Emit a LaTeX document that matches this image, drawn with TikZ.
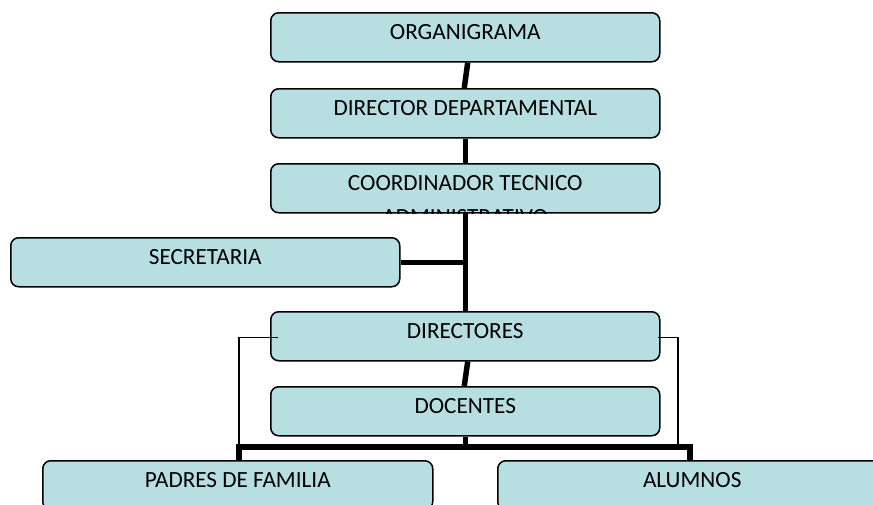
\documentclass[tikz,border=0pt]{standalone}
\usepackage{fontspec}
\setmainfont{Carlito}
\usetikzlibrary{calc}
\pgfdeclarelayer{bg}
\pgfsetlayers{bg,main}
\definecolor{boxfill}{RGB}{183,222,225}
\begin{document}
\begin{tikzpicture}[x=1pt,y=-1pt,
  box/.style={draw=black, line width=1.5pt, fill=boxfill, rounded corners=8pt,
    minimum width=389pt, minimum height=49pt, anchor=north west, inner sep=0pt},
  lbl/.style={anchor=base, font=\fontsize{23.2}{34}\selectfont, text=black, inner sep=0pt},
  bigline/.style={line width=5.5pt, line join=miter},
  thinline/.style={line width=1.3pt}]
\useasboundingbox (0,0) rectangle (873,504);
\clip (0,0) rectangle (873,504);

% boxes
\node[box] (org) at (270,12) {};
\node[box] (dir) at (270,88) {};
\node[box] (coord) at (270,163) {};
\node[box] (sec) at (10,237) {};
\node[box] (dirs) at (270,311) {};
\node[box] (doc) at (270,386) {};
\node[box, minimum width=390pt] (pad) at (42,460) {};
\node[box] (alu) at (497,460) {};

% labels
\node[lbl] (torg) at ($(org.north)+(0,27)$) {ORGANIGRAMA};
\node[lbl] (tdir) at ($(dir.north)+(0,27)$) {DIRECTOR DEPARTAMENTAL};
\begin{scope}
  \clip[rounded corners=8pt] (coord.north west) rectangle (coord.south east);
  \node[lbl] (tcoord1) at ($(coord.north)+(0,27)$) {COORDINADOR TECNICO};
  \node[lbl] (tcoord2) at ($(coord.north)+(0,61)$) {ADMINISTRATIVO};
\end{scope}
\node[lbl] (tsec) at ($(sec.north)+(0,27)$) {SECRETARIA};
\node[lbl] (tdirs) at ($(dirs.north)+(0,27)$) {DIRECTORES};
\node[lbl] (tdoc) at ($(doc.north)+(0,27)$) {DOCENTES};
\node[lbl] (tpad) at ($(pad.north)+(0,27)$) {PADRES DE FAMILIA};
\node[lbl] (talu) at ($(alu.north)+(0,27)$) {ALUMNOS};

\coordinate (busL) at (239,447);
\coordinate (busR) at (690,447);
\coordinate (busRt) at (678,447);

% connectors
\begin{pgfonlayer}{bg}
  \draw[bigline] ($(org.south)+(2.5,0)$) -- ($(dir.north)+(-1,0)$);
  \draw[bigline] (dir.south) -- (dirs.north);
  \draw[bigline] (sec.east) -- (sec.east -| dir.south);
  \draw[bigline] ($(dirs.south)+(2.5,0)$) -- ($(doc.north)+(-1,0)$);
  \draw[bigline] (doc.south) -- (doc.south |- busL);
  \draw[bigline] (pad.north -| busL) -- (busL) -- (busR) -- (alu.north -| busR);
\end{pgfonlayer}
\draw[thinline] ($(dirs.west)+(8,1.5)$) -| (busL);
\draw[thinline] ($(dirs.east)+(-3,1.5)$) -| (busRt);
\end{tikzpicture}
\end{document}
